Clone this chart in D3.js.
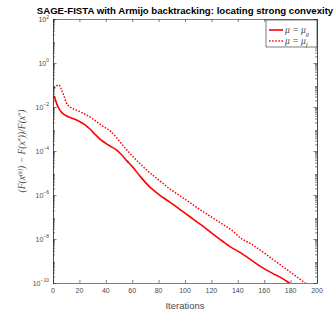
<!DOCTYPE html>
<html><head><meta charset="utf-8">
<script src="https://cdn.jsdelivr.net/npm/d3@7"></script>
<style>html,body{margin:0;padding:0;background:#fff;} svg{display:block}</style>
</head><body>
<svg id="c" width="334" height="320"></svg>
<script>
const titleText = "SAGE-FISTA with Armijo backtracking: locating strong convexity";
const xLabelText = "Iterations";
const xTicks = [0, 20, 40, 60, 80, 100, 120, 140, 160, 180, 200];
const yTickExps = [-10, -8, -6, -4, -2, 0, 2];

// series: mu = mu_g (solid)  -- iteration and log10 of relative error
const solidIter = [1, 2, 3, 4, 5, 6, 8, 10, 13, 16, 20, 24, 28, 32, 36, 40, 44, 48, 52, 56, 60, 66, 73, 80, 88, 96, 104, 112, 120, 128, 135, 142, 150, 158, 166, 174, 179, 182];
const solidLog10 = [-1.5, -1.7, -1.88, -2.02, -2.12, -2.2, -2.32, -2.4, -2.48, -2.55, -2.66, -2.8, -3.0, -3.25, -3.48, -3.65, -3.8, -3.95, -4.17, -4.45, -4.7, -5.15, -5.62, -5.97, -6.3, -6.65, -7.0, -7.35, -7.72, -8.08, -8.38, -8.62, -8.95, -9.28, -9.55, -9.8, -10.0, -10.12];

// series: mu = mu_f (dotted)
const dottedIter = [1, 2, 3, 4.5, 6, 8, 10, 13, 16, 20, 24, 28, 32, 36, 40, 44, 48, 52, 56, 60, 66, 72, 76, 81, 88, 96, 104, 112, 120, 128, 136, 142, 150, 158, 166, 174, 182, 191, 194];
const dottedLog10 = [-1.15, -1.08, -1.02, -1.0, -1.15, -1.45, -1.8, -2.0, -2.1, -2.2, -2.32, -2.45, -2.62, -2.8, -2.96, -3.12, -3.38, -3.68, -3.95, -4.22, -4.58, -4.92, -5.12, -5.36, -5.7, -6.03, -6.36, -6.69, -7.0, -7.31, -7.63, -7.95, -8.22, -8.55, -8.9, -9.25, -9.6, -10.0, -10.12];

const legendItems = [
  {sym: "g", dash: null},
  {sym: "f", dash: "1.5,1.6"}
];

const svg = d3.select("#c");
const m = {l: 53, r: 317, t: 19, b: 283};
const x = d3.scaleLinear().domain([0, 200]).range([m.l, m.r]);
const y = d3.scaleLog().domain([1e-10, 1e2]).range([m.b, m.t]);
const axisColor = "#262626";
const labelColor = "#4a4a4a";

svg.append("rect").attr("width", 334).attr("height", 320).attr("fill", "#fff");

// clip
svg.append("defs").append("clipPath").attr("id", "clip")
  .append("rect").attr("x", m.l).attr("y", m.t).attr("width", m.r - m.l).attr("height", m.b - m.t);

// lines
const line = d3.line().curve(d3.curveMonotoneX).x(d => x(d[0])).y(d => y(Math.pow(10, d[1])));
const g = svg.append("g").attr("clip-path", "url(#clip)");
g.append("path").datum(solidIter.map((it, i) => [it, solidLog10[i]]))
  .attr("d", line).attr("fill", "none").attr("stroke", "#ff0000").attr("stroke-width", 1.6);
g.append("path").datum(dottedIter.map((it, i) => [it, dottedLog10[i]]))
  .attr("d", line).attr("fill", "none").attr("stroke", "#ff0000").attr("stroke-width", 1.5)
  .attr("stroke-dasharray", "1.5,1.6");

// axes
const minorVals = [];
for (let k = -10; k < 2; k++) for (let j = 2; j <= 9; j++) minorVals.push(j * Math.pow(10, k));
const majorVals = yTickExps.map(e => Math.pow(10, e));

function styleAxis(sel) {
  sel.select(".domain").attr("stroke", axisColor).attr("stroke-width", 0.6);
  sel.selectAll(".tick line").attr("stroke", axisColor).attr("stroke-width", 0.6);
  sel.selectAll(".tick text").remove();
}
svg.append("g").attr("transform", `translate(0,${m.b})`)
  .call(d3.axisBottom(x).tickValues(xTicks).tickSize(-3).tickSizeOuter(0)).call(styleAxis);
svg.append("g").attr("transform", `translate(0,${m.t})`)
  .call(d3.axisTop(x).tickValues(xTicks).tickSize(-3).tickSizeOuter(0)).call(styleAxis);
svg.append("g").attr("transform", `translate(${m.l},0)`)
  .call(d3.axisLeft(y).tickValues(majorVals).tickSize(-3.5).tickSizeOuter(0)).call(styleAxis);
svg.append("g").attr("transform", `translate(${m.l},0)`)
  .call(d3.axisLeft(y).tickValues(minorVals).tickSize(-2).tickSizeOuter(0)).call(styleAxis);
svg.append("g").attr("transform", `translate(${m.r},0)`)
  .call(d3.axisRight(y).tickValues(majorVals).tickSize(-3.5).tickSizeOuter(0)).call(styleAxis);
svg.append("g").attr("transform", `translate(${m.r},0)`)
  .call(d3.axisRight(y).tickValues(minorVals).tickSize(-2).tickSizeOuter(0)).call(styleAxis);

// x tick labels
svg.append("g").selectAll("text").data(xTicks).join("text")
  .attr("x", d => x(d)).attr("y", m.b + 10)
  .attr("text-anchor", "middle").attr("font-family", "Liberation Sans, Arial, sans-serif")
  .attr("font-size", 7).attr("fill", labelColor).text(d => d);

// y tick labels
const yl = svg.append("g").selectAll("text").data(yTickExps).join("text")
  .attr("x", m.l - 4).attr("y", d => y(Math.pow(10, d)) + 2.5 + (d === 2 ? 0.8 : 0))
  .attr("text-anchor", "end").attr("font-family", "Liberation Sans, Arial, sans-serif")
  .attr("font-size", 7).attr("fill", labelColor);
yl.append("tspan").text("10");
yl.append("tspan").attr("dy", -3.2).attr("font-size", 5).text(d => d < 0 ? "\u2212" + (-d) : d);

// x label
svg.append("text").attr("x", (m.l + m.r) / 2).attr("y", 309)
  .attr("text-anchor", "middle").attr("font-family", "Liberation Sans, Arial, sans-serif")
  .attr("font-size", 9.5).attr("fill", labelColor).text(xLabelText);

// y label (math)
const ylab = svg.append("text").attr("transform", `translate(25,${(m.t + m.b) / 2}) rotate(-90)`)
  .attr("text-anchor", "middle").attr("font-family", "Liberation Serif, DejaVu Serif, serif")
  .attr("font-style", "italic").attr("font-size", 9.5).attr("fill", labelColor);
const parts = [["(F(x", 0], ["(k)", 1], [") \u2212 F(x", 0], ["*", 1], ["))/F(x", 0], ["*", 1], [")", 0]];
let prevSup = 0;
parts.forEach(([t, sup]) => {
  const ts = ylab.append("tspan").text(t);
  if (sup !== prevSup) ts.attr("dy", sup ? -3.5 : 3.5);
  if (sup) ts.attr("font-size", 6.5);
  prevSup = sup;
});

// title
const title = svg.append("text").attr("x", (m.l + m.r) / 2).attr("y", 13.5)
  .attr("text-anchor", "middle").attr("font-family", "Liberation Sans, Arial, sans-serif")
  .attr("font-weight", "bold").attr("font-size", 10).attr("fill", "#000").text(titleText);
const tw = title.node().getComputedTextLength();
title.attr("font-size", 10 * 297 / tw);

// legend
const lg = svg.append("g");
lg.append("rect").attr("x", 266).attr("y", 20).attr("width", 51).attr("height", 27)
  .attr("fill", "#fff").attr("stroke", axisColor).attr("stroke-width", 0.6);
legendItems.forEach((it, i) => {
  const yy = 30 + i * 11;
  lg.append("line").attr("x1", 269).attr("x2", 283).attr("y1", yy).attr("y2", yy)
    .attr("stroke", "#ff0000").attr("stroke-width", it.dash ? 1.5 : 1.6)
    .attr("stroke-dasharray", it.dash);
  const t = lg.append("text").attr("x", 285).attr("y", yy + 3)
    .attr("font-family", "Liberation Serif, DejaVu Serif, serif").attr("font-style", "italic")
    .attr("font-size", 9.5).attr("fill", labelColor);
  t.append("tspan").text("\u03bc = \u03bc");
  t.append("tspan").attr("dy", 2.5).attr("font-size", 6.5).text(it.sym);
});
</script>
</body></html>
